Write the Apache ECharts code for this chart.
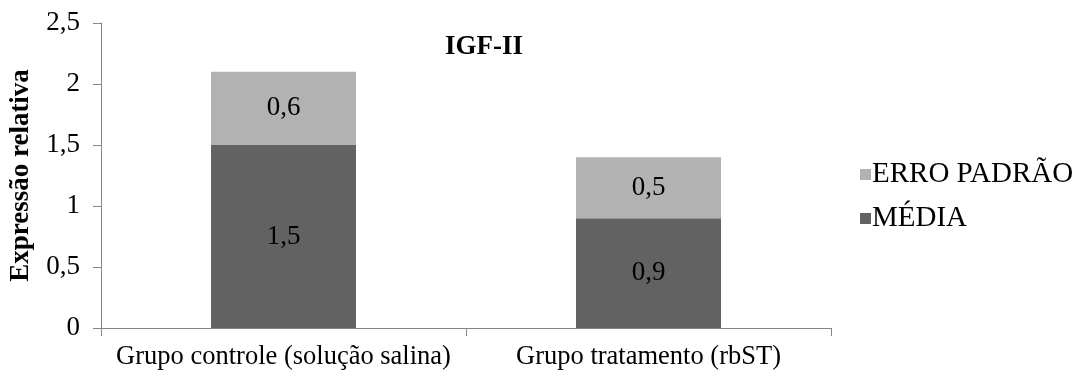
<!DOCTYPE html>
<html>
<head>
<meta charset="utf-8">
<script src="https://cdn.jsdelivr.net/npm/echarts@6/dist/echarts.min.js"></script>
<style>
  html, body { margin: 0; padding: 0; background: #fff; }
  #chart { width: 1084px; height: 376px; }
</style>
</head>
<body>
<div id="chart"></div>
<script>
const categories = ['Grupo controle (solução salina)', 'Grupo tratamento (rbST)'];
const media = [1.5, 0.9];
const erroPadrao = [0.6, 0.5];
const yTicks = [0, 0.5, 1, 1.5, 2, 2.5];

const serif = '"Liberation Serif", "Times New Roman", serif';
const fmt = v => String(v).replace('.', ',');

const chart = echarts.init(document.getElementById('chart'), null, { renderer: 'canvas' });

chart.setOption({
  animation: false,
  textStyle: { fontFamily: serif, color: '#000' },
  title: {
    text: 'IGF-II',
    left: 479,
    top: 29,
    textAlign: 'center',
    textStyle: { fontFamily: serif, fontSize: 27, fontWeight: 'bold', color: '#000' }
  },
  legend: {
    orient: 'vertical',
    left: 855,
    top: 155,
    itemWidth: 11,
    itemHeight: 11,
    itemGap: 15,
    icon: 'rect',
    data: ['ERRO PADRÃO', 'MÉDIA'],
    textStyle: { fontFamily: serif, fontSize: 29, color: '#000', padding: [0, 0, 0, -4] }
  },
  grid: { left: 99, right: 253, top: 23, bottom: 48 },
  xAxis: {
    type: 'category',
    data: categories,
    axisLine: { lineStyle: { color: '#868686', width: 1 } },
    axisTick: { show: true, alignWithLabel: false, length: 8, lineStyle: { color: '#868686' } },
    axisLabel: { fontFamily: serif, fontSize: 26.5, color: '#000', margin: 16, interval: 0 }
  },
  yAxis: {
    type: 'value',
    min: yTicks[0],
    max: yTicks[yTicks.length - 1],
    interval: 0.5,
    name: 'Expressão relativa',
    nameLocation: 'middle',
    nameGap: 66,
    nameTextStyle: { fontFamily: serif, fontSize: 27, fontWeight: 'bold', color: '#000' },
    axisLine: { show: true, lineStyle: { color: '#868686', width: 1 } },
    axisTick: { show: true, length: 8, lineStyle: { color: '#868686' } },
    axisLabel: { fontFamily: serif, fontSize: 27, color: '#000', margin: 21, formatter: fmt },
    splitLine: { show: false }
  },
  series: [
    {
      name: 'MÉDIA',
      type: 'bar',
      stack: 'total',
      data: media,
      barWidth: 145,
      itemStyle: { color: '#626262' },
      label: { show: true, position: 'inside', fontFamily: serif, fontSize: 27, color: '#000', formatter: p => fmt(p.value) }
    },
    {
      name: 'ERRO PADRÃO',
      type: 'bar',
      stack: 'total',
      data: erroPadrao,
      barWidth: 145,
      itemStyle: { color: '#b2b2b2' },
      label: { show: true, position: 'inside', fontFamily: serif, fontSize: 27, color: '#000', formatter: p => fmt(p.value) }
    }
  ]
});
</script>
</body>
</html>
